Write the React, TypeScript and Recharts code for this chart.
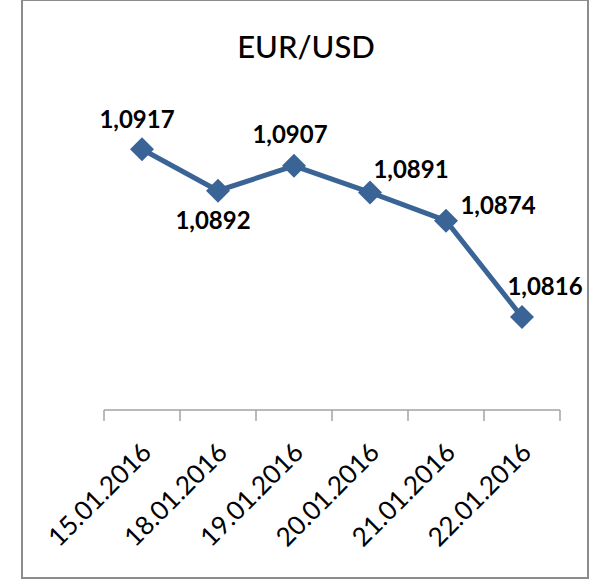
import React from "react";
import { ComposedChart, Line, XAxis, YAxis, LabelList } from "recharts";

const dates = ["15.01.2016", "18.01.2016", "19.01.2016", "20.01.2016", "21.01.2016", "22.01.2016"];
const rates = [1.0917, 1.0892, 1.0907, 1.0891, 1.0874, 1.0816];

const data = dates.map((date, i) => ({ date, rate: rates[i] }));

// label offsets from each marker, like the hand-placed Excel labels
const labelShift = [
  [-5, -31],
  [-5, 29],
  [-4, -32],
  [41, -24],
  [52, -16],
  [23, -31],
];

const FONT = "Lato, 'Open Sans', sans-serif";
const LINE_COLOR = "#3B6496";
const AXIS_COLOR = "#A3A3A3";

const DateTick = (props: any) => {
  const { x, y, payload, index, width, visibleTicksCount } = props;
  const half = width / visibleTicksCount / 2;
  const tx = x + 11;
  const ty = y + 44;
  return (
    <g>
      {index === 0 && <line x1={x - half} y1={y} x2={x - half} y2={y + 11} stroke={AXIS_COLOR} strokeWidth={1.5} />}
      <line x1={x + half} y1={y} x2={x + half} y2={y + 11} stroke={AXIS_COLOR} strokeWidth={1.5} />
      <text
        x={tx}
        y={ty}
        transform={`rotate(-45, ${tx}, ${ty})`}
        textAnchor="end"
        fontFamily={FONT}
        fontSize={26}
        fill="#000"
      >
        {payload.value}
      </text>
    </g>
  );
};

const Diamond = (props: any) => {
  const { cx, cy } = props;
  const r = 12;
  return <path d={`M${cx},${cy - r} L${cx + r},${cy} L${cx},${cy + r} L${cx - r},${cy} Z`} fill={LINE_COLOR} />;
};

const RateLabel = (props: any) => {
  const { x, y, value, index } = props;
  const [dx, dy] = labelShift[index];
  return (
    <text
      x={x + dx}
      y={y + dy}
      textAnchor="middle"
      dominantBaseline="central"
      fontFamily={FONT}
      fontWeight="bold"
      fontSize={24}
      fill="#000"
    >
      {Number(value).toFixed(4).replace(".", ",")}
    </text>
  );
};

export default function App() {
  return (
    <div style={{ position: "absolute", left: 0, top: 0, width: 606, height: 585, background: "#fff" }}>
      <div
        style={{
          position: "absolute",
          left: 21,
          top: -1,
          width: 564,
          height: 576,
          border: "2px solid #8C8C8C",
        }}
      />
      <div
        style={{
          position: "absolute",
          left: 0,
          top: 28,
          width: 612,
          textAlign: "center",
          fontFamily: FONT,
          fontSize: 31,
          fontWeight: 500,
          lineHeight: "36px",
        }}
      >
        EUR/USD
      </div>
      <ComposedChart
        width={606}
        height={585}
        data={data}
        margin={{ top: 111, right: 46, left: 104, bottom: 115 }}
        style={{ position: "absolute", left: 0, top: 0 }}
      >
        <XAxis
          dataKey="date"
          scale="band"
          height={60}
          axisLine={{ stroke: AXIS_COLOR, strokeWidth: 1.5 }}
          tickLine={false}
          tickSize={0}
          tickMargin={0}
          interval={0}
          tick={<DateTick />}
        />
        <YAxis hide domain={[1.076, 1.094]} />
        <Line
          dataKey="rate"
          stroke={LINE_COLOR}
          strokeWidth={5}
          dot={<Diamond />}
          activeDot={false}
          isAnimationActive={false}
        >
          <LabelList dataKey="rate" content={<RateLabel />} />
        </Line>
      </ComposedChart>
    </div>
  );
}
